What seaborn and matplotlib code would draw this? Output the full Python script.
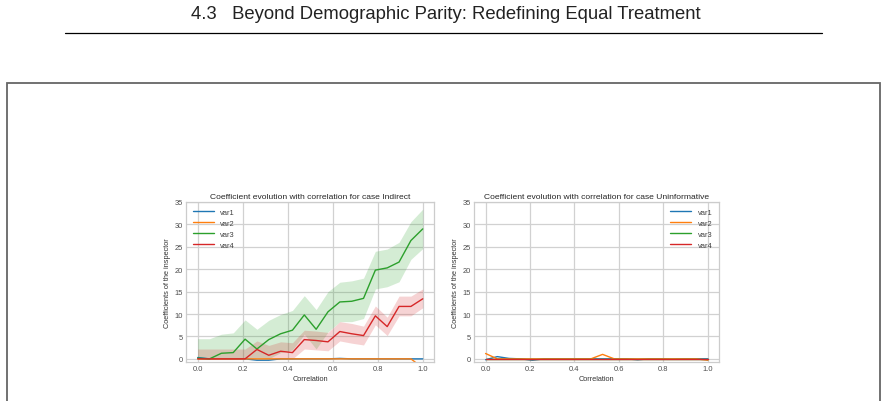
import numpy as np
import pandas as pd
import seaborn as sns
import matplotlib.pyplot as plt
from matplotlib.patches import Rectangle
from matplotlib.lines import Line2D

# correlation grid (20 points)
corr = np.linspace(0, 1, 20)
var_names = ["var1", "var2", "var3", "var4"]

# case Indirect
ind_var1 = [0.3, 0, 0, 0, 0, -0.3, -0.3, 0, 0, 0, 0, 0, 0.1, 0, 0, 0, 0, 0, 0, 0]
ind_var2 = [0, 0, 0, 0, 0, 0, 0, 0, 0, 0, 0, 0, 0, 0, 0, 0, 0, 0, 0, -2.0]
ind_var3 = [0.15, 0, 1.25, 1.4, 4.4, 2.2, 4.3, 5.6, 6.4, 9.8, 6.6, 10.5, 12.7, 12.85, 13.5, 19.8, 20.3, 21.6, 26.4, 29.0]
ind_var4 = [0, 0, 0, 0, 0, 2.1, 0.8, 1.7, 1.4, 4.3, 4.1, 3.8, 6.1, 5.6, 5.2, 9.6, 7.2, 11.7, 11.7, 13.4]
ind_var3_hi = [4.5, 4.5, 5.5, 5.8, 8.7, 6.6, 8.6, 9.9, 10.8, 14.1, 11.0, 15.0, 17.1, 17.4, 18.0, 24.0, 24.5, 26.0, 30.6, 33.4]
ind_var3_lo = [0, 0, 0, 0, 0.1, 0, 0, 1.4, 2.0, 5.5, 2.2, 6.0, 8.3, 8.3, 9.0, 15.6, 16.1, 17.2, 22.2, 24.6]
ind_var4_hi = [2.2, 2.2, 2.2, 2.2, 2.2, 4.0, 3.0, 3.8, 3.6, 6.4, 6.2, 5.9, 8.3, 7.9, 7.3, 11.8, 9.3, 14.0, 14.0, 15.6]
ind_var4_lo = [0, 0, 0, 0, 0, 0.3, 0, 0, 0, 2.2, 2.0, 1.8, 4.0, 3.5, 3.1, 7.6, 5.2, 9.6, 9.6, 11.4]

# case Uninformative
uni_var1 = [-0.2, 0.5, 0.1, 0, -0.3, 0, 0, 0, 0, 0, 0, 0, 0, -0.2, 0, 0, -0.1, 0, 0, 0]
uni_var2 = [1.2, 0, 0, 0, 0, 0, 0, 0, 0, 0, 1.0, 0, 0, 0, 0, 0, 0, 0, 0, -0.3]
uni_var3 = [0] * 20
uni_var4 = [0] * 20

colors = ["#1f77b4", "#ff7f0e", "#2ca02c", "#d62728"]


def to_long(series):
    rows = []
    for name, vals in zip(var_names, series):
        for c, v in zip(corr, vals):
            rows.append({"Correlation": c, "coef": v, "var": name})
    return pd.DataFrame(rows)


sns.set_style("whitegrid")
plt.rcParams["font.family"] = ["Liberation Sans", "DejaVu Sans"]
plt.rcParams["axes.edgecolor"] = ".8"
plt.rcParams["grid.color"] = ".82"

fig = plt.figure(figsize=(8.87, 4.02), dpi=100)

# page decoration
fig.text(0.503, 0.965, "4.3   Beyond Demographic Parity: Redefining Equal Treatment",
         ha="center", va="center", fontsize=13.3, color="#222222")
fig.add_artist(Line2D([65 / 887, 822 / 887], [1 - 34 / 402] * 2, color="black", lw=0.9))
fig.add_artist(Rectangle((7 / 887, -0.2), 873 / 887, 1 - 84 / 402 + 0.2, fill=False,
                         edgecolor="#666666", lw=1.3))

ax1 = fig.add_axes([186 / 887, 1 - 363 / 402, 248 / 887, 160 / 402])
ax2 = fig.add_axes([474 / 887, 1 - 363 / 402, 245 / 887, 160 / 402])

cases = [
    (ax1, "Indirect", [ind_var1, ind_var2, ind_var3, ind_var4], "upper left"),
    (ax2, "Uninformative", [uni_var1, uni_var2, uni_var3, uni_var4], "upper right"),
]

for ax, case, series, loc in cases:
    df = to_long(series)
    sns.lineplot(data=df, x="Correlation", y="coef", hue="var", palette=colors,
                 errorbar=None, lw=1.0, ax=ax)
    ax.set_title(f"Coefficient evolution with correlation for case {case}", fontsize=6.1,
                 pad=3, color=".15")
    ax.set_xlabel("Correlation", fontsize=5.3, color=".2")
    ax.set_ylabel("Coefficients of the inspector", fontsize=5.3, color=".2")
    ax.set_ylim(-0.7, 35)
    ax.set_xlim(-0.052, 1.05)
    ax.set_xticks([0, 0.2, 0.4, 0.6, 0.8, 1.0])
    ax.set_yticks([0, 5, 10, 15, 20, 25, 30, 35])
    ax.tick_params(labelsize=5.4, pad=2.5, length=0, colors=".3")
    ax.xaxis.labelpad = 1.5
    ax.yaxis.labelpad = 2.5
    ax.grid(lw=0.9)
    for s in ax.spines.values():
        s.set_linewidth(0.9)
    ax.legend(loc=loc, fontsize=5.4, frameon=False, handlelength=2.8, labelcolor=".25")

# confidence bands for the Indirect case
ax1.fill_between(corr, ind_var3_lo, ind_var3_hi, color=colors[2], alpha=0.2, lw=0)
ax1.fill_between(corr, ind_var4_lo, ind_var4_hi, color=colors[3], alpha=0.2, lw=0)

fig.savefig("out.png", dpi=100)
